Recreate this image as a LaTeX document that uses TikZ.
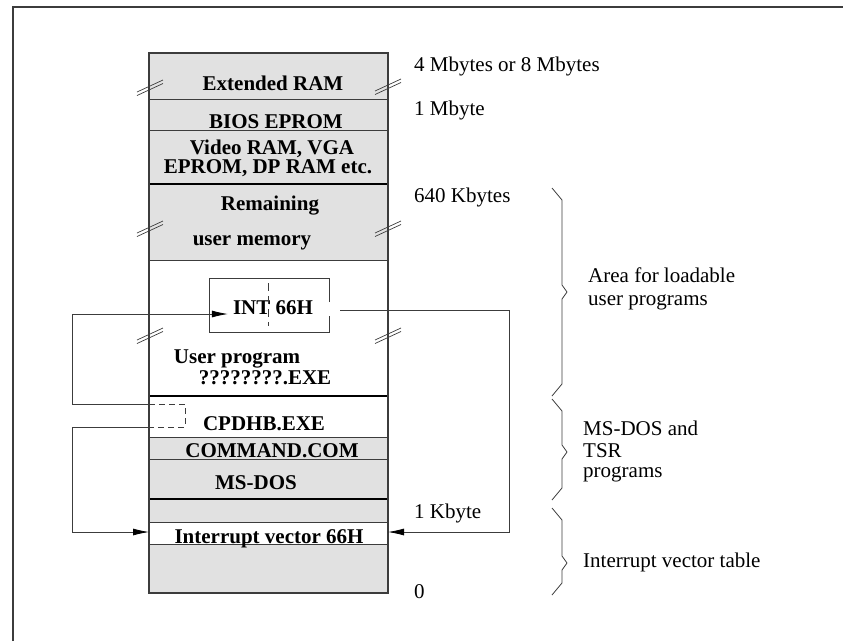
\documentclass[tikz,border=0pt]{standalone}
\usepackage{fontspec}
\setmainfont{Liberation Serif}
\usetikzlibrary{arrows.meta}
\definecolor{memGray}{RGB}{225,225,225}
\definecolor{lineGray}{RGB}{60,60,60}

\begin{document}
\begin{tikzpicture}[x=1pt,y=-1pt,
    cell/.style={font=\bfseries\fontsize{21}{19}\selectfont, inner sep=0pt, anchor=base},
    addr/.style={font=\fontsize{21}{19}\selectfont, inner sep=0pt, anchor=base west},
    conn/.style={lineGray, line width=0.8pt},
    arrowto/.style={-{Latex[length=16pt,width=7pt,black]}}]
  \useasboundingbox (0,0) rectangle (843,641);

  % page frame (left and top only)
  \draw[lineGray, line width=1.5pt] (13,641) -- (13,7) -- (843,7);

  % memory column
  \fill[memGray] (149,53) rectangle (388,260);
  \fill[memGray] (149,437) rectangle (388,522);
  \fill[memGray] (149,544) rectangle (388,593);
  \foreach \y in {99,130,260,437,459,522,544}
    \draw[lineGray, line width=0.9pt] (149,\y) -- (388,\y);
  \foreach \y in {184,396,499}
    \draw[line width=2.6pt] (149,\y) -- (388,\y);
  \draw[lineGray, line width=1.1pt] (149,53) rectangle (388,593);

  % break marks
  \foreach \x/\y in {150/87,388/86,150/228,388/228,150/335,388/335} {
    \draw[lineGray, line width=0.7pt] (\x-13,\y+5) -- ++(26,-12);
    \draw[lineGray, line width=0.7pt] (\x-13,\y+8.5) -- ++(26,-12);
  }

  % cell texts
  \node[cell] (ext) at (273,90) {Extended RAM};
  \node[cell] (bios) at (276,128) {BIOS EPROM};
  \node[cell] (video) at (272,154) {Video RAM, VGA};
  \node[cell] (videob) at (268,173) {EPROM, DP RAM etc.};
  \node[cell] (remain) at (270,210) {Remaining};
  \node[cell] (usermem) at (252,245) {user memory};
  \node[cell] (intlbl) at (273,314) {INT 66H};
  \node[cell] (userprog) at (237,363) {User program};
  \node[cell] (exe) at (265,384) {????????.EXE};
  \node[cell] (cpdhb) at (264,430) {CPDHB.EXE};
  \node[cell] (command) at (272,457) {COMMAND.COM};
  \node[cell] (msdos) at (256,489) {MS-DOS};
  \node[cell] (ivec) at (269,543) {Interrupt vector 66H};

  % INT box, open on the right
  \draw[lineGray, line width=0.9pt] (329,302) -- (329,278) -- (209,278)
    -- (209,332) -- (329,332) -- (329,316);
  \draw[lineGray, line width=0.9pt, dash pattern=on 8pt off 5pt] (268,283) -- (268,326);

  % TSR stub
  \coordinate (dtop) at (149,404);
  \coordinate (dbot) at (149,427);
  \draw[lineGray, line width=0.8pt, dash pattern=on 6pt off 4pt]
    (dtop) -- (185,404) -- (185,427) -- (dbot);

  % connectors
  \coordinate (intout) at (340,310);
  \coordinate (ivL) at (149,532);
  \coordinate (ivR) at (388,532);
  \draw[conn, arrowto, shorten >=5pt] (dtop) -- (72,404) |- (intlbl.base west);
  \draw[conn, arrowto] (dbot) -- (72,427) |- (ivL);
  \draw[conn, arrowto] (intout) -- (509,310) |- (ivR);

  % addresses
  \node[addr] (a4m) at (414,71) {4 Mbytes or 8 Mbytes};
  \node[addr] (a1m) at (414,115) {1 Mbyte};
  \node[addr] (a640) at (414,202) {640 Kbytes};
  \node[addr] (a1k) at (414,518) {1 Kbyte};
  \node[addr] (a0) at (414,598) {0};

  % braces
  \foreach \t/\m/\b in {188/292/396,399/452/500,508/563/595}
    \draw[lineGray, line width=0.8pt] (552,\t) -- (562,\t+12) -- (562,\m-7)
      -- (567,\m) -- (562,\m+7) -- (562,\b-12) -- (552,\b);

  \node[addr] (area) at (588,282) {Area for loadable};
  \node[addr] (areab) at (588,305) {user programs};
  \node[addr] (tsr) at (583,435) {MS-DOS and};
  \node[addr] (tsrb) at (583,457) {TSR};
  \node[addr] (tsrc) at (583,477) {programs};
  \node[addr] (ivt) at (583,567) {Interrupt vector table};
\end{tikzpicture}
\end{document}
